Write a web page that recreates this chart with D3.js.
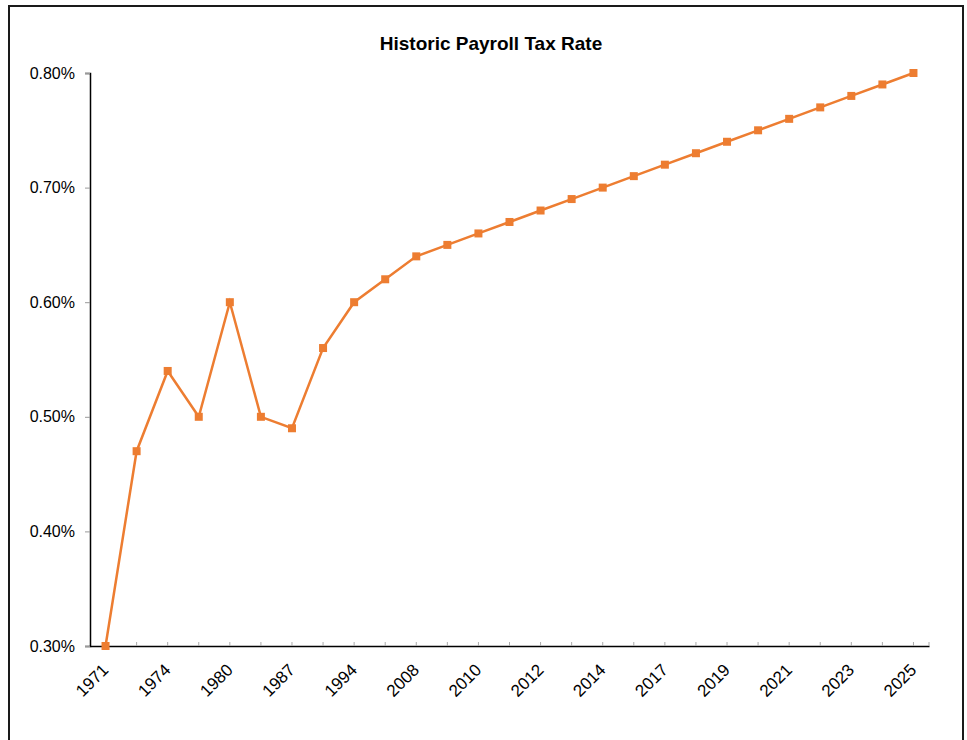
<!DOCTYPE html>
<html>
<head>
<meta charset="utf-8">
<script src="https://cdn.jsdelivr.net/npm/d3@7"></script>
<style>
  html, body { margin: 0; padding: 0; background: #fff; }
  svg { display: block; }
  text { font-family: "Liberation Sans", Arial, sans-serif; fill: #000; }
</style>
</head>
<body>
<svg id="chart" width="967" height="740"></svg>
<script>
// Years on the category axis (every other one is labelled)
const years = ["1971","1973","1974","1977","1980","1983","1987","1990","1994","2000",
               "2008","2009","2010","2011","2012","2013","2014","2016","2017","2018",
               "2019","2020","2021","2022","2023","2024","2025"];
// Payroll tax rate, in percent
const rates = [0.30, 0.47, 0.54, 0.50, 0.60, 0.50, 0.49, 0.56, 0.60, 0.62,
               0.64, 0.65, 0.66, 0.67, 0.68, 0.69, 0.70, 0.71, 0.72, 0.73,
               0.74, 0.75, 0.76, 0.77, 0.78, 0.79, 0.80];
const yTicks = [0.30, 0.40, 0.50, 0.60, 0.70, 0.80];
const title = "Historic Payroll Tax Rate";

const svg = d3.select("#chart");
const W = 967, H = 740;
const plotLeft = 90, plotRight = 929, plotTop = 73, plotBottom = 646;
const color = "#ED7D31";
const font = "Liberation Sans, Arial, sans-serif";

// outer frame
svg.append("path")
  .attr("d", `M9,${H + 5}V6H963V${H + 5}`)
  .attr("fill", "none")
  .attr("stroke", "#1a1a1a")
  .attr("stroke-width", 2);

const x = d3.scaleBand().domain(years).range([plotLeft, plotRight]).padding(0);
const cx = d => x(d) + x.bandwidth() / 2;
const y = d3.scaleLinear().domain([0.30, 0.80]).range([plotBottom, plotTop]);

// title
svg.append("text")
  .attr("x", 491).attr("y", 50)
  .attr("text-anchor", "middle")
  .style("font-size", "19px").style("font-weight", "bold")
  .text(title);

// y axis
const yAxis = svg.append("g").attr("transform", `translate(${plotLeft},0)`)
  .call(d3.axisLeft(y).tickValues(yTicks).tickSize(5).tickPadding(10)
    .tickFormat(d => d.toFixed(2) + "%"));
yAxis.select(".domain").attr("stroke", "#000").attr("stroke-width", 1.5);
yAxis.selectAll(".tick line").attr("stroke", "#999");
yAxis.selectAll(".tick text").style("font-size", "16px").style("font-family", font);

// x axis: ticks point into the plot, labels rotated
const xAxis = svg.append("g").attr("transform", `translate(0,${plotBottom})`)
  .call(d3.axisBottom(x).tickSizeInner(-4).tickSizeOuter(0)
    .tickFormat((d, i) => i % 2 === 0 ? d : ""));
xAxis.select(".domain").attr("stroke", "#000").attr("stroke-width", 1.5);
xAxis.selectAll(".tick line").attr("stroke", "#aaa");
xAxis.selectAll(".tick text")
  .style("font-size", "17px").style("font-family", font)
  .attr("text-anchor", "end")
  .attr("x", 0).attr("y", 0).attr("dy", 0)
  .attr("transform", "translate(4,25) rotate(-45)");
// end tick at the right edge of the axis
xAxis.append("line")
  .attr("x1", plotRight).attr("x2", plotRight).attr("y1", 0).attr("y2", -4)
  .attr("stroke", "#aaa");

// series line
const line = d3.line().x((d, i) => cx(years[i])).y(d => y(d));
svg.append("path")
  .datum(rates)
  .attr("d", line)
  .attr("fill", "none")
  .attr("stroke", color)
  .attr("stroke-width", 2.5);

// square markers
const ms = 8;
svg.append("g").selectAll("rect")
  .data(rates)
  .join("rect")
  .attr("x", (d, i) => cx(years[i]) - ms / 2)
  .attr("y", d => y(d) - ms / 2)
  .attr("width", ms).attr("height", ms)
  .attr("fill", color);
</script>
</body>
</html>
